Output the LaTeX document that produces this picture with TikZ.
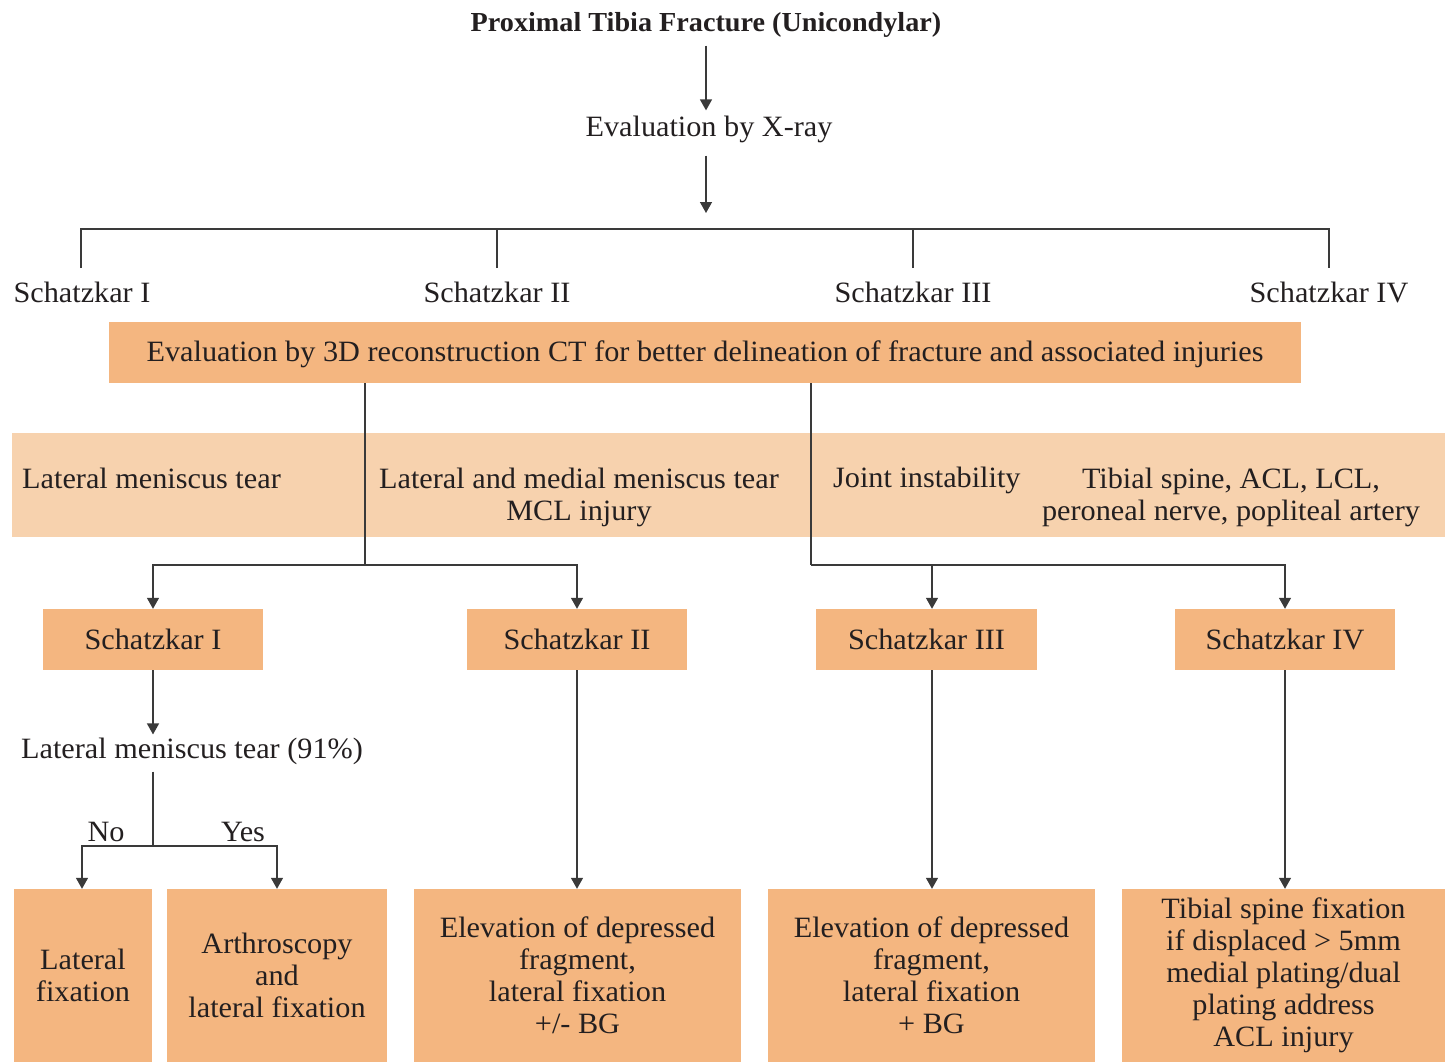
\documentclass[tikz,border=0pt]{standalone}
\usepackage{fontspec}
\setmainfont{Liberation Serif}[FakeStretch=1.025]
\usetikzlibrary{arrows.meta}
\definecolor{orng}{HTML}{F4B680}
\definecolor{lite}{HTML}{F7D2AE}
\definecolor{ink}{HTML}{231F20}
\definecolor{wire}{HTML}{3A3A3A}
\begin{document}
\begin{tikzpicture}[x=1pt,y=-1pt,
  every node/.style={text=ink, font=\fontsize{29.5}{32}\selectfont},
  txt/.style={inner sep=0pt},
  obox/.style={fill=orng, inner sep=0pt, align=center},
  ln/.style={draw=wire, line width=1.4pt},
  arr/.style={ln, -{Triangle[width=12pt,length=11pt]}}]
\useasboundingbox (0,0) rectangle (1445,1062);
% top
\node[txt, font=\fontsize{27.5}{32}\selectfont\bfseries] (title) at (706,25) {Proximal Tibia Fracture (Unicondylar)};
\node[txt] (xray) at (709,129) {Evaluation by X-ray};
\coordinate (hub) at (706,213);
\coordinate (top) at (706,229);
\draw[arr, shorten <=8pt, shorten >=5pt] (title.south -| hub) -- (xray.north -| hub);
\draw[arr, shorten <=13pt] (xray.south -| hub) -- (hub);
% schatzkar labels
\node[txt] (l1) at (82,292) {Schatzkar I};
\node[txt] (l2) at (497,292) {Schatzkar II};
\node[txt] (l3) at (913,292) {Schatzkar III};
\node[txt] (l4) at (1329,292) {Schatzkar IV};
\coordinate (k1) at (81,268);
\coordinate (k2) at (497,268);
\coordinate (k3) at (913,268);
\coordinate (k4) at (1329,268);
\draw[ln] (k1) |- (top) -| (k4);
\draw[ln] (k2) -- (k2 |- top);
\draw[ln] (k3) -- (k3 |- top);
% CT box
\node[obox, minimum width=1192, minimum height=61] (ct) at (705,352.5) {\raisebox{-2pt}[\height][\depth]{Evaluation by 3D reconstruction CT for better delineation of fracture and associated injuries}};
% band
\node[fill=lite, inner sep=0pt, minimum width=1433, minimum height=104] (band) at (728.5,485) {};
\node[txt, anchor=west] (b1) at (22,478) {Lateral meniscus tear};
\node[txt, align=center] (b2) at (579,497) {Lateral and medial meniscus tear\\MCL injury};
\node[txt, anchor=west] (b3) at (833,480) {Joint instability};
\node[txt, align=center] (b4) at (1231,497) {Tibial spine, ACL, LCL,\\peroneal nerve, popliteal artery};
% junctions
\coordinate (j1) at (365,565);
\coordinate (j2) at (811,565);
\draw[ln] (ct.south -| j1) -- (j1);
\draw[ln] (ct.south -| j2) -- (j2);
% schatzkar boxes
\node[obox, minimum width=220, minimum height=61] (s1) at (153,639.5) {Schatzkar I};
\node[obox, minimum width=220, minimum height=61] (s2) at (577,639.5) {Schatzkar II};
\node[obox, minimum width=221, minimum height=61] (s3) at (926.5,639.5) {Schatzkar III};
\node[obox, minimum width=220, minimum height=61] (s4) at (1285,639.5) {Schatzkar IV};
\coordinate (c3) at (932,639.5);
\draw[arr] (j1) -| (s1.north);
\draw[arr] (j1) -| (s2.north);
\draw[arr] (j2) -| (c3 |- s3.north);
\draw[arr] (j2) -| (s4.north);
% left branch
\node[txt] (lmt) at (192,751) {Lateral meniscus tear (91\%)};
\coordinate (jn) at (153,846);
\draw[arr, shorten >=3pt] (s1.south) -- (s1.south |- lmt.north);
\draw[ln, shorten <=7pt] (jn |- lmt.south) -- (jn);
% bottom boxes
\node[obox, minimum width=138, minimum height=173] (lf) at (83,975.5) {Lateral\\fixation};
\node[obox, minimum width=220, minimum height=173] (ar) at (277,975.5) {Arthroscopy\\and\\lateral fixation};
\node[obox, minimum width=327, minimum height=173] (e2) at (577.5,975.5) {Elevation of depressed\\fragment,\\lateral fixation\\+/- BG};
\node[obox, minimum width=327, minimum height=173] (e3) at (931.5,975.5) {Elevation of depressed\\fragment,\\lateral fixation\\+ BG};
\node[obox, minimum width=323, minimum height=173] (ts) at (1283.5,975.5) {Tibial spine fixation\\if displaced > 5mm\\medial plating/dual\\plating address\\ACL injury};
\draw[arr] (jn) -| ([xshift=-1pt]lf.north);
\draw[arr] (jn) -| (ar.north);
\node[txt] (no) at (106,832) {No};
\node[txt] (yes) at (243,832) {Yes};
\draw[arr] (s2.south) -- (e2.north -| s2.south);
\draw[arr] (c3 |- s3.south) -- (c3 |- e3.north);
\draw[arr] (s4.south) -- (ts.north -| s4.south);
\end{tikzpicture}
\end{document}
